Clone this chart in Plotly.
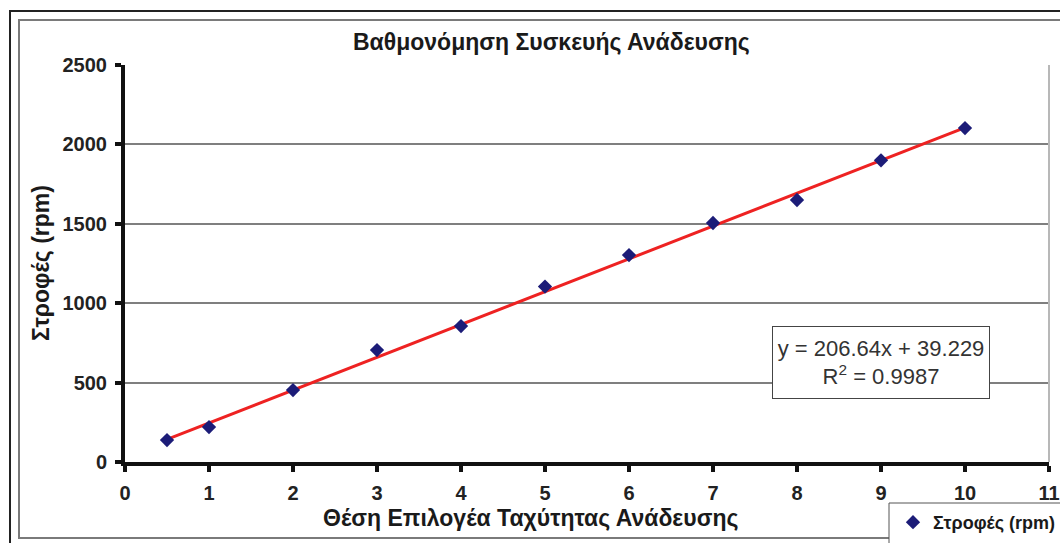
import plotly.graph_objects as go

# ---- data ----
positions = [0.5, 1, 2, 3, 4, 5, 6, 7, 8, 9, 10]
rpm = [138, 220, 453, 705, 856, 1105, 1303, 1505, 1650, 1900, 2103]
fit_slope = 206.64
fit_intercept = 39.229
fit_r2 = 0.9987
series_name = "Στροφές (rpm)"
title_text = "Βαθμονόμηση Συσκευής Ανάδευσης"
x_title = "Θέση Επιλογέα Ταχύτητας Ανάδευσης"
y_title = "Στροφές (rpm)"

W, H = 1060, 543
L, R, T, B = 125, 1049, 65, 462  # plot area in pixels


def fx(px):
    return (px - L) / (R - L)


def fy(py):
    return (B - py) / (B - T)


FONT = "Liberation Sans, Arial, sans-serif"

fig = go.Figure()

fit_x = [min(positions), max(positions)]
fit_y = [fit_slope * v + fit_intercept for v in fit_x]
fig.add_trace(go.Scatter(x=fit_x, y=fit_y, mode="lines",
                         line=dict(color="#ee2222", width=3),
                         showlegend=False, hoverinfo="skip"))
fig.add_trace(go.Scatter(x=positions, y=rpm, mode="markers", name=series_name,
                         marker=dict(symbol="diamond", size=11, color="#1c1c78")))

shapes = [
    dict(type="rect", xref="paper", yref="paper", x0=fx(10), x1=fx(1080), y0=fy(11), y1=fy(560),
         line=dict(color="#222222", width=2), layer="below"),
    dict(type="rect", xref="paper", yref="paper", x0=fx(19), x1=fx(1075), y0=fy(20), y1=fy(538),
         line=dict(color="#7a7a7a", width=2), layer="below"),
    dict(type="line", xref="paper", yref="paper", x0=1, x1=1, y0=0, y1=1,
         line=dict(color="#b8b8b8", width=2)),
    dict(type="rect", xref="paper", yref="paper", x0=fx(889), x1=fx(1080), y0=fy(503), y1=fy(560),
         line=dict(color="#555555", width=1), fillcolor="white", layer="below"),
]

annotations = [
    dict(text=f"<b>{title_text}</b>", xref="paper", yref="paper", x=fx(551), y=fy(42),
         xanchor="center", yanchor="middle",
         showarrow=False, font=dict(family=FONT, size=23, color="#1a1a1a")),
    dict(text=f"<b>{x_title}</b>", xref="paper", yref="paper", x=fx(530), y=fy(518),
         xanchor="center", yanchor="middle",
         showarrow=False, font=dict(family=FONT, size=23, color="#1a1a1a")),
    dict(text=f"<b>{y_title}</b>", xref="paper", yref="paper", x=fx(41), y=fy(263),
         xanchor="center", yanchor="middle",
         showarrow=False, textangle=-90, font=dict(family=FONT, size=23, color="#1a1a1a")),
    dict(text=f"y = {fit_slope}x + {fit_intercept}<br>R<sup>2</sup> = {fit_r2}",
         xref="paper", yref="paper", x=fx(881), y=fy(362.5), showarrow=False,
         xanchor="center", yanchor="middle",
         width=214, height=69, bordercolor="#444444", borderwidth=1, bgcolor="white",
         font=dict(family=FONT, size=22, color="#333333")),
]

fig.update_layout(
    width=W, height=H,
    margin=dict(l=L, r=W - R, t=T, b=H - B, pad=0, autoexpand=False),
    paper_bgcolor="white", plot_bgcolor="white",
    font=dict(family=FONT, color="#222222"),
    showlegend=True,
    legend=dict(x=fx(893), y=fy(504), xanchor="left", yanchor="top",
                bgcolor="rgba(0,0,0,0)", borderwidth=0,
                font=dict(family=FONT, size=18, color="#1a1a1a", weight="bold")),
    shapes=shapes, annotations=annotations,
)

fig.update_xaxes(range=[0, 11], dtick=1, tick0=0, showgrid=False, zeroline=False,
                 showline=True, linecolor="#111111", linewidth=4, automargin=False,
                 ticks="outside", ticklen=6, tickwidth=4, tickcolor="#111111",
                 ticklabelstandoff=4,
                 tickfont=dict(family=FONT, size=20, color="#222222", weight="bold"))
fig.update_yaxes(range=[0, 2500], dtick=500, tick0=0, showgrid=True,
                 gridcolor="#7f7f7f", gridwidth=1.5, zeroline=False,
                 showline=True, linecolor="#111111", linewidth=4, automargin=False,
                 ticks="outside", ticklen=6, tickwidth=4, tickcolor="#111111",
                 ticklabelstandoff=4,
                 tickfont=dict(family=FONT, size=20, color="#222222", weight="bold"))

fig.write_html("out.html")
